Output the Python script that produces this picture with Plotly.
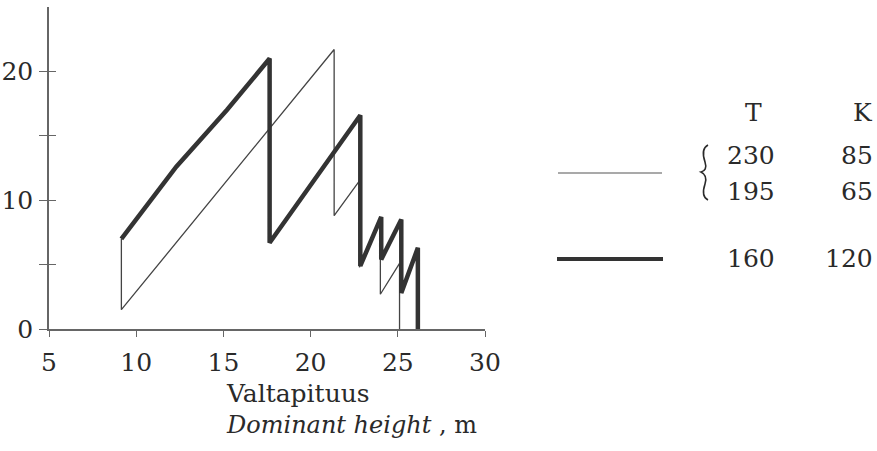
import plotly.graph_objects as go

# Thinning schedules: basal area against dominant height
x_thin = [9.15, 9.15, 21.35, 21.35, 22.8, 22.8, 24.0, 24.0, 25.1, 25.1]
y_thin = [7.0, 1.5, 21.7, 8.8, 11.5, 4.8, 8.3, 2.7, 5.1, 0.0]

x_thick = [9.15, 12.3, 15.2, 17.65, 17.65, 22.85, 22.85, 24.05, 24.05, 25.2, 25.2, 26.15, 26.15]
y_thick = [7.0, 12.6, 17.0, 21.0, 6.7, 16.6, 4.9, 8.7, 5.4, 8.5, 2.8, 6.3, 0.0]

x_ticks = [5, 10, 15, 20, 25, 30]
y_ticks = [0, 5, 10, 15, 20]
y_tick_text = ["0", "", "10", "", "20"]

legend_header = ["T", "K"]
legend_thin_T = ["230", "195"]
legend_thin_K = ["85", "65"]
legend_thick_T = ["160"]
legend_thick_K = ["120"]

W, H = 877, 451
ML, MR, MT, MB = 49, 392, 7, 122
PW, PH = W - ML - MR, H - MT - MB

FONT = "DejaVu Serif"
FS = 25
INK = "#2a2a2a"
AXIS = "#666666"


def paper(px, py):
    return (px - ML) / PW, (H - MB - py) / PH


fig = go.Figure()
fig.add_trace(go.Scatter(x=x_thin, y=y_thin, mode="lines",
                         line=dict(color="#444444", width=1.3), showlegend=False))
fig.add_trace(go.Scatter(x=x_thick, y=y_thick, mode="lines",
                         line=dict(color="#333333", width=4.5), showlegend=False))

annotations = []


def text(s, px, py, anchor="center", size=FS):
    x, y = paper(px, py)
    annotations.append(dict(text=s, x=x, y=y, xref="paper", yref="paper",
                            xanchor=anchor, yanchor="middle", showarrow=False,
                            font=dict(family=FONT, size=size, color=INK)))


# axis title (two lines, left aligned)
text("Valtapituus", 224, 394, anchor="left")
text("<i>Dominant height</i> , m", 224, 425, anchor="left", size=24)

# legend table
text(legend_header[0], 753, 112)
text(legend_header[1], 875, 112, anchor="right")
for i, (t, k) in enumerate(zip(legend_thin_T, legend_thin_K)):
    py = 155 + i * 37
    text(t, 751, py)
    text(k, 875, py, anchor="right")
text(legend_thick_T[0], 751, 258)
text(legend_thick_K[0], 875, 258, anchor="right")

shapes = []
for (x0, x1, py, w, c) in [(558, 662, 173, 1.2, "#555555"), (557, 663, 259, 4.0, "#333333")]:
    a = paper(x0, py)
    b = paper(x1, py)
    shapes.append(dict(type="line", xref="paper", yref="paper",
                       x0=a[0], y0=a[1], x1=b[0], y1=b[1],
                       line=dict(color=c, width=w)))

# curly brace grouping the two thin-line rows
brace_pts = [("M", [(708, 145)]),
             ("C", [(702, 148), (703, 156), (705, 162)]),
             ("C", [(707, 168), (705, 171), (701, 172)]),
             ("C", [(705, 174), (707, 178), (705, 184)]),
             ("C", [(703, 190), (702, 197), (708, 200)])]
path = ""
for cmd, pts in brace_pts:
    path += cmd + " " + " ".join("%.5f,%.5f" % paper(px, py) for px, py in pts) + " "
shapes.append(dict(type="path", xref="paper", yref="paper", path=path.strip(),
                   line=dict(color=INK, width=1.6)))

fig.update_layout(
    width=W, height=H,
    margin=dict(l=ML, r=MR, t=MT, b=MB, autoexpand=False),
    paper_bgcolor="white", plot_bgcolor="white",
    font=dict(family=FONT, size=FS, color=INK),
    annotations=annotations, shapes=shapes,
    xaxis=dict(range=[5, 30], tickvals=x_ticks, ticks="outside", ticklen=6,
               tickcolor=AXIS, tickwidth=1.3, showline=True, linecolor=AXIS,
               linewidth=1.5, showgrid=False, zeroline=False, automargin=False,
               ticklabelstandoff=4, tickfont=dict(family=FONT, size=FS, color=INK)),
    yaxis=dict(range=[0, 25], tickvals=y_ticks, ticktext=y_tick_text,
               ticks="outside", ticklen=8, tickcolor=AXIS, tickwidth=1.3,
               showline=True, linecolor=AXIS, linewidth=1.5, showgrid=False,
               zeroline=False, ticklabelstandoff=1, automargin=False,
               tickfont=dict(family=FONT, size=FS, color=INK)),
    yaxis2=dict(overlaying="y", matches="y", side="left", tickvals=y_ticks,
                showticklabels=False, ticks="inside", ticklen=7, tickcolor=AXIS,
                tickwidth=1.3, showline=False, showgrid=False, zeroline=False,
                automargin=False),
)
# invisible trace so the inside tick axis is drawn
fig.add_trace(go.Scatter(x=[None], y=[None], yaxis="y2", showlegend=False,
                         hoverinfo="skip"))

fig.write_html("out.html")
